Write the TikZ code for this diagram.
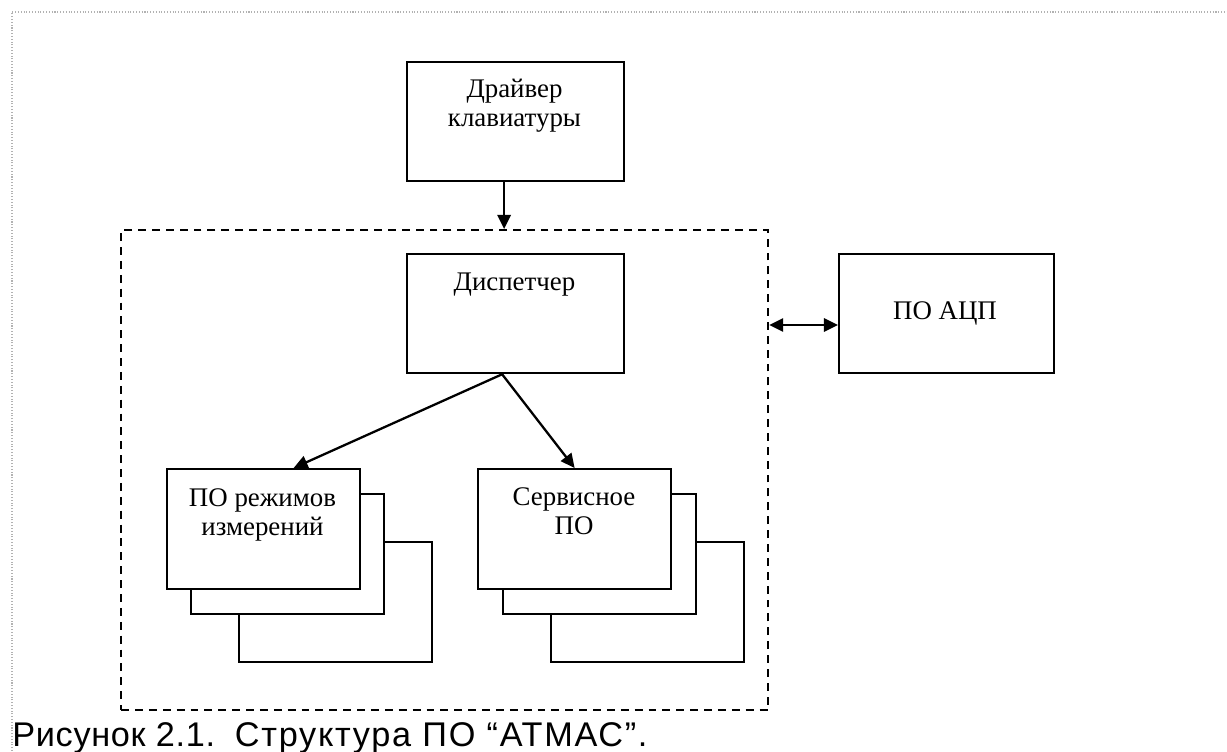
\documentclass[tikz,border=0pt]{standalone}
\usepackage{fontspec}
\setmainfont{Liberation Serif}
\newfontfamily\capfont[LetterSpace=2]{Liberation Sans}
\newfontfamily\capfontb[LetterSpace=5]{Liberation Sans}
\usetikzlibrary{arrows.meta}
\tikzset{
	blok/.style={draw,line width=1.3pt,fill=white,minimum width=4.34cm,minimum height=2.38cm,inner sep=0pt,anchor=north west},
	list/.style={draw,line width=1.3pt,fill=white,minimum width=3.86cm,minimum height=2.4cm,inner sep=0pt,anchor=north west},
	txt/.style={font=\fontsize{15.3}{16.5}\selectfont,align=center,inner sep=0pt,anchor=base},
	fl/.style={-{Triangle[length=8pt,width=7.5pt]},line width=1.3pt},
	fldv/.style={{Triangle[length=8pt,width=7.5pt]}-{Triangle[length=8pt,width=7.5pt]},line width=1.3pt},
}
\begin{document}
\begin{tikzpicture}[x=0.02cm,y=-0.02cm]
	\useasboundingbox (0,0) rectangle (1227,751) ;
	\draw[gray!60,line width=0.6pt,densely dotted] (12,751)--(12,12)--(1227,12) ;
	\node[draw,dash pattern=on 4.5pt off 3.4pt,line width=1.3pt,minimum width=12.94cm,minimum height=9.6cm,inner sep=0pt,anchor=north west] (ramka) at (120,229) {} ;
	\node[blok] (drv) at (406,61) {} ;
	\node[blok] (disp) at (406,253) {} ;
	\node[blok,minimum width=4.3cm] (acp) at (838,253) {} ;
	% stacks
	\node[list] (rezh3) at (238,541) {} ;
	\node[list] (rezh2) at (190,493) {} ;
	\node[list] (rezh1) at (166,468) {} ;
	\node[list] (serv3) at (550,541) {} ;
	\node[list] (serv2) at (502,493) {} ;
	\node[list] (serv1) at (477,468) {} ;
	\node[txt] (drvt) at (514.5,126) {Драйвер\\клавиатуры} ;
	\node[txt] (dispt) at (514.5,290) {Диспетчер} ;
	\node[txt] (acpt) at (945,319) {ПО АЦП} ;
	\node[txt] (rezht) at (262.5,535) {ПО режимов\\измерений} ;
	\node[txt] (servt) at (574,534) {Сервисное\\ПО} ;
	\draw[fl] ([xshift=-0.23cm]drv.south)--([xshift=-0.23cm]drv.south |- ramka.north) ;
	\draw[fl] ([xshift=-0.27cm]disp.south)--([xshift=0.6cm]rezh1.north) ;
	\draw[fl] ([xshift=-0.27cm]disp.south)--(serv1.north) ;
	\draw[fldv] (ramka.east |- 0,325)--(acp.west |- 0,325) ;
	\node[font=\capfont\fontsize{19.5}{21}\selectfont,inner sep=0pt,anchor=base west] (podpis) at (12,746) {Рисунок 2.1.\hspace{0.58em}{\capfontb Структура ПО “АТМАС”.}} ;
\end{tikzpicture}
\end{document}
